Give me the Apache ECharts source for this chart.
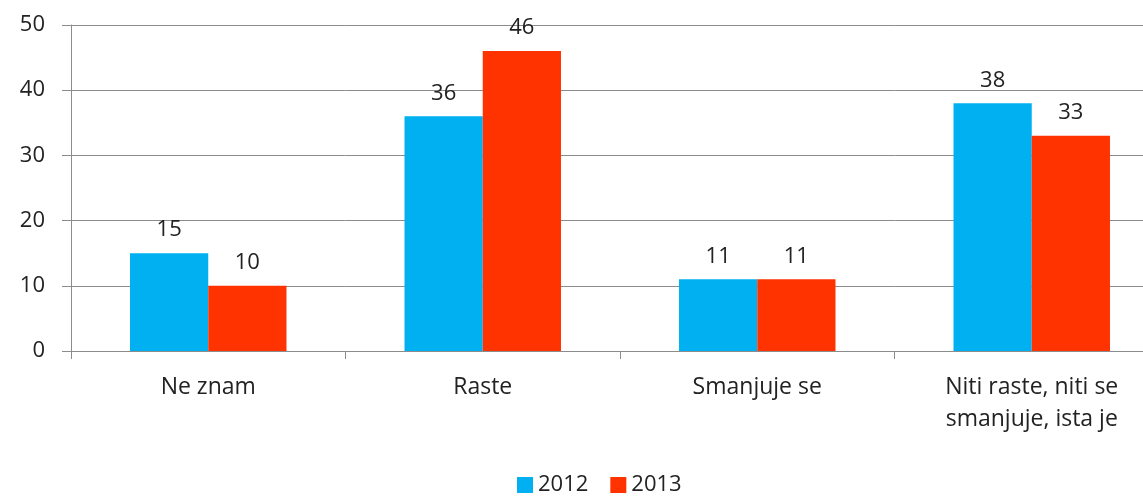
<!DOCTYPE html>
<html>
<head>
<meta charset="utf-8">
<script src="https://cdn.jsdelivr.net/npm/echarts@6/dist/echarts.min.js"></script>
<style>
  html, body { margin: 0; padding: 0; background: #fff; overflow: hidden; width: 1143px; height: 503px; }
  /* wider than the window: the last category is cut off on the right, as in the original */
  #chart { width: 1169px; height: 503px; }
</style>
</head>
<body>
<div id="chart"></div>
<script>
var categories = ['Ne znam', 'Raste', 'Smanjuje se', 'Niti raste, niti se\nsmanjuje, ista je'];
var values2012 = [15, 36, 11, 38];
var values2013 = [10, 46, 11, 33];
var yTicks = [0, 10, 20, 30, 40, 50];

var font = '"Open Sans", Lato, sans-serif';

var myChart = echarts.init(document.getElementById('chart'));
var option = {
    backgroundColor: '#fff',
    animation: false,
    textStyle: { fontFamily: font },
    grid: { left: 71, right: 0, top: 25, bottom: 152 },
    legend: {
        bottom: 2,
        left: 512,
        itemWidth: 16,
        itemHeight: 16,
        itemGap: 22,
        icon: 'rect',
        textStyle: { fontSize: 22, color: '#222', fontFamily: font },
        data: ['2012', '2013']
    },
    xAxis: {
        type: 'category',
        data: categories,
        axisLine: { lineStyle: { color: '#8c8c8c', width: 1 } },
        axisTick: { show: true, length: 8, inside: false, lineStyle: { color: '#8c8c8c' } },
        axisLabel: { fontSize: 23, color: '#222', margin: 20, lineHeight: 32, fontFamily: font, interval: 0 }
    },
    yAxis: {
        type: 'value',
        min: yTicks[0],
        max: yTicks[yTicks.length - 1],
        interval: 10,
        axisLine: { show: true, lineStyle: { color: '#8c8c8c' } },
        axisTick: { show: true, length: 9, lineStyle: { color: '#8c8c8c' } },
        axisLabel: { fontSize: 22, color: '#222', margin: 26, fontFamily: font },
        splitLine: { lineStyle: { color: '#8c8c8c', width: 1 } }
    },
    series: [
        {
            name: '2012',
            type: 'bar',
            data: values2012,
            barWidth: '28.5%',
            barGap: '0%',
            itemStyle: { color: '#00B0F0' },
            label: { show: true, position: 'top', distance: 12, fontSize: 22, color: '#222', fontFamily: font }
        },
        {
            name: '2013',
            type: 'bar',
            data: values2013,
            barWidth: '28.5%',
            itemStyle: { color: '#FF3300' },
            label: { show: true, position: 'top', distance: 12, fontSize: 22, color: '#222', fontFamily: font }
        }
    ]
};
myChart.setOption(option);
</script>
</body>
</html>
